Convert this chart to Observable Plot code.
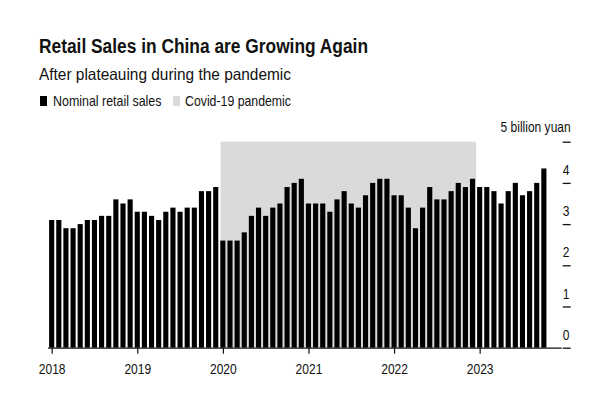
<!DOCTYPE html>
<html><head><meta charset="utf-8">
<script src="https://cdn.jsdelivr.net/npm/d3@7"></script>
<script src="https://cdn.jsdelivr.net/npm/@observablehq/plot@0.6"></script>
<style>
html,body{margin:0;padding:0;background:#fff;width:600px;height:400px;overflow:hidden;position:relative}
.t{position:absolute;white-space:nowrap;line-height:1;color:#111;transform-origin:0 0;font-family:"Liberation Sans Narrow","Arial Narrow","Liberation Sans",Arial,sans-serif}
.sw{position:absolute}
#chart{position:absolute;left:0;top:112px}
</style></head>
<body>
<div id="title" class="t" style="font-weight:bold">Retail Sales in China are Growing Again</div>
<div id="subtitle" class="t">After plateauing during the pandemic</div>
<div class="sw" style="left:40.4px;top:96.3px;width:7px;height:10px;background:#000"></div>
<div id="leg1" class="t">Nominal retail sales</div>
<div class="sw" style="left:173px;top:96.3px;width:7px;height:10px;background:#dadada"></div>
<div id="leg2" class="t">Covid-19 pandemic</div>
<div id="chart"></div>
<script>
// ---- data ----
const startYear = 2018;
const yearLabels = ["2018", "2019", "2020", "2021", "2022", "2023"];
const sales2018 = [3.1, 3.1, 2.9, 2.9, 3.0, 3.1, 3.1, 3.2, 3.2, 3.6, 3.5, 3.6];
const sales2019 = [3.3, 3.3, 3.2, 3.1, 3.3, 3.4, 3.3, 3.4, 3.4, 3.8, 3.8, 3.9];
const sales2020 = [2.6, 2.6, 2.6, 2.8, 3.2, 3.4, 3.2, 3.4, 3.5, 3.9, 4.0, 4.1];
const sales2021 = [3.5, 3.5, 3.5, 3.3, 3.6, 3.8, 3.5, 3.4, 3.7, 4.0, 4.1, 4.1];
const sales2022 = [3.7, 3.7, 3.4, 2.9, 3.4, 3.9, 3.6, 3.6, 3.8, 4.0, 3.9, 4.1];
const sales2023 = [3.9, 3.9, 3.8, 3.5, 3.8, 4.0, 3.7, 3.8, 4.0, 4.35];
const covidPeriod = ["2020-01", "2022-12"];
const yTicks = [0, 1, 2, 3, 4];
const yUnitTick = 5;
const yUnitLabel = "5 billion yuan";

// ---- header text placement ----
function place(id, left, baseline, size, width) {
  const el = document.getElementById(id);
  el.style.fontSize = size + "px";
  el.style.left = left + "px";
  el.style.top = (baseline - 0.8465 * size) + "px";
  const w = el.getBoundingClientRect().width;
  el.style.transform = `scaleX(${width / w})`;
}
place("title", 38.5, 53.3, 19.5, 329);
place("subtitle", 38.5, 80, 16.5, 252);
place("leg1", 52.7, 106.3, 14.5, 108.5);
place("leg2", 185.4, 106.3, 14.5, 106);

// ---- chart ----
const sales = [...sales2018, ...sales2019, ...sales2020, ...sales2021, ...sales2022, ...sales2023];
const data = sales.map((v, i) => ({i, v}));
const monthIndex = s => (+s.slice(0, 4) - startYear) * 12 + (+s.slice(5, 7) - 1);
const covid = [{a: monthIndex(covidPeriod[0]), b: monthIndex(covidPeriod[1])}];
const yearTicks = yearLabels.map(y => (+y - startYear) * 12);
const font = '"Liberation Sans Narrow","Arial Narrow","Liberation Sans",Arial,sans-serif';

const chart = Plot.plot({
  width: 600,
  height: 288,
  marginTop: 29.7,
  marginBottom: 52.3,
  marginLeft: 48.1,
  marginRight: 38.3,
  style: {fontFamily: font, fontSize: "14.5px", color: "#111", background: "transparent", overflow: "visible"},
  x: {type: "linear", domain: [-0.5, 71.5], axis: null},
  y: {domain: [0, 5], axis: null},
  marks: [
    Plot.rectY(covid, {x1: d => d.a - 0.5, x2: d => d.b + 0.5, y1: 0, y2: 5, fill: "#dadada", insetLeft: 1.3}),
    Plot.rectY(data, {x1: d => d.i - 0.5, x2: d => d.i + 0.5, y: "v", fill: "#000", insetLeft: 1, insetRight: 1}),
    Plot.ruleY([0], {stroke: "#111", strokeWidth: 1.3}),
    Plot.axisX({ticks: yearTicks, tickSize: 6, tickPadding: 9, label: null, tickFormat: i => yearLabels[i / 12], strokeWidth: 1.2}),
    Plot.axisY({anchor: "right", ticks: [...yTicks, yUnitTick], tickSize: 8, label: null, tickFormat: () => "", strokeWidth: 1.3}),
    Plot.text(yTicks, {y: d => d, text: d => String(d), frameAnchor: "right", dx: 4, dy: -13, textAnchor: "middle", fill: "#111"}),
    Plot.text([yUnitTick], {y: d => d, text: () => yUnitLabel, frameAnchor: "right", dx: 8.5, dy: -15, textAnchor: "end", fill: "#111"})
  ]
});
// condense SVG text horizontally around each anchor (narrow face not installed)
const k = 0.83;
chart.querySelectorAll("text").forEach(t => {
  const x = +(t.getAttribute("x") || 0);
  const tr = t.getAttribute("transform") || "";
  t.setAttribute("transform", `${tr} translate(${x},0) scale(${k},1) translate(${-x},0)`);
});
document.getElementById("chart").appendChild(chart);
</script>
</body></html>
